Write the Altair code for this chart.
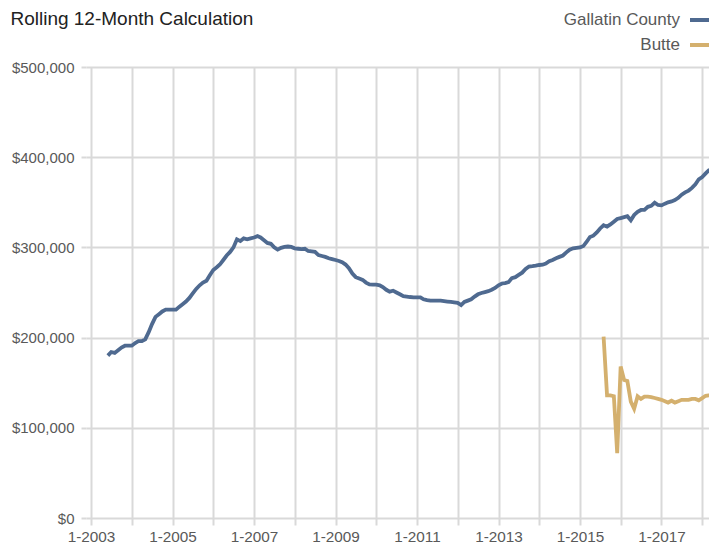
import altair as alt
import pandas as pd

# ---- data (values in thousands of dollars, monthly) ----
series_names = ["Gallatin County", "Butte"]

gallatin_start = "2003-06-01"
gallatin_k = [
    180, 184, 183, 186, 189, 191, 191,                                   # 2003 Jun-Dec
    191, 194, 196, 196, 198, 206, 215, 223, 226, 229, 231, 231,          # 2004
    231, 231, 234, 237, 240, 244, 249, 254, 258, 261, 263, 269,          # 2005
    275, 278, 281, 286, 291, 295, 300, 309, 307, 310, 309, 310,          # 2006
    311, 312.5, 311, 308, 305, 304, 300, 297.5, 299.5, 300.5, 301, 300.5,  # 2007
    299, 298.5, 298, 298.5, 296, 295.5, 295, 291.5, 290.5, 289.5, 288, 287,  # 2008
    286, 285, 283.5, 281, 277, 271, 267, 265.5, 264, 261, 259, 258.7,    # 2009
    258.7, 258, 256, 253, 251, 252, 250, 248, 246, 245.5, 245, 244.7,    # 2010
    244.7, 244.7, 242.5, 241.5, 241, 241, 241, 241, 240.5, 240, 239.5, 239,  # 2011
    238.5, 236, 239.5, 241, 242.5, 245.5, 248, 249.5, 250.5, 251.5, 253, 255,  # 2012
    258, 260, 260.5, 261.5, 266, 267, 269.5, 272, 276, 278.8, 279.2, 279.7,  # 2013
    280.5, 280.8, 282, 284.6, 286, 288, 289.5, 291, 294.5, 297.5, 299, 299.5,  # 2014
    300, 301.5, 306, 311.5, 313, 316.5, 321, 324.5, 323, 325.5, 328.5, 331.5,  # 2015
    332.5, 333.5, 334.5, 330, 336, 339.5, 341.5, 341.5, 345, 346, 349.5, 347,  # 2016
    346.6, 348.5, 350, 351, 352.5, 355, 358.5, 361, 363, 366, 370, 375.5,  # 2017
    378, 382, 385.5, 387, 391,                                           # 2018 Jan-May
]

butte_start = "2015-08-01"
butte_k = [
    201, 136, 136, 135, 72,                                              # 2015 Aug-Dec
    168, 153, 152, 129, 121, 135, 132, 134.5, 134.5, 134, 133, 132,      # 2016
    131, 129.5, 128, 130, 128, 129.5, 131, 131, 131, 132, 132, 130.5,    # 2017
    133, 135.5, 136, 136.5, 137,                                         # 2018 Jan-May
]

y_ticks = [0, 100000, 200000, 300000, 400000, 500000]
x_tick_years = list(range(2003, 2019))

# ---- table ----
def month_dates(start, n):
    return pd.date_range(start, periods=n, freq="MS").strftime("%Y-%m-%d").tolist()

frames = []
for name, start, vals in [
    (series_names[0], gallatin_start, gallatin_k),
    (series_names[1], butte_start, butte_k),
]:
    frames.append(pd.DataFrame({
        "date": month_dates(start, len(vals)),
        "value": [v * 1000 for v in vals],
        "series": name,
    }))
df = pd.concat(frames, ignore_index=True)

FONT = "Liberation Sans"
GRID = "#d9d9d9"
TEXT = "#595959"
BLUE = "#4f6a90"
TAN = "#d4b06e"

x = alt.X(
    "date:T",
    title=None,
    scale=alt.Scale(
        type="utc",
        domain=[alt.DateTime(year=2002, month=11, date=17, utc=True),
                alt.DateTime(year=2018, month=3, date=3, utc=True)],
        nice=False,
    ),
    axis=alt.Axis(
        values=[alt.DateTime(year=yr, month=1, date=1, utc=True) for yr in x_tick_years],
        labelExpr="utcyear(datum.value) % 2 == 1 ? '1-' + utcyear(datum.value) : ''",
        grid=True, gridColor=GRID, gridWidth=2,
        ticks=True, tickColor=GRID, tickWidth=2, tickSize=7,
        domain=False,
        labelFont=FONT, labelFontSize=15.3, labelColor=TEXT, labelPadding=4,
        labelFlush=False, labelOverlap=False,
    ),
)
y = alt.Y(
    "value:Q",
    title=None,
    scale=alt.Scale(domain=[0, 500000], nice=False),
    axis=alt.Axis(
        values=y_ticks, format="$,.0f",
        grid=True, gridColor=GRID, gridWidth=2,
        ticks=True, tickColor=GRID, tickWidth=2, tickSize=5,
        domain=False,
        labelFont=FONT, labelFontSize=15, labelColor=TEXT, labelPadding=7,
    ),
)
color = alt.Color(
    "series:N",
    scale=alt.Scale(domain=series_names, range=[BLUE, TAN]),
    legend=alt.Legend(
        title=None, orient="none", legendX=602, legendY=-64,
        labelAlign="right", labelOffset={"expr": "-42"},
        symbolType="stroke", symbolSize=900, symbolStrokeWidth=4,
        labelFont=FONT, labelFontSize=17, labelColor=TEXT,
        rowPadding={"expr": "-4.3"},
    ),
)

chart = alt.Chart(df).mark_line(strokeWidth=3.8, clip=True).encode(
    x=x, y=y, color=color, detail="series:N",
).properties(
    width=623, height=451,
    autosize=alt.AutoSizeParams(type="none"),
    padding={"left": 78, "top": 59, "right": 0, "bottom": 26},
    title=alt.TitleParams(
        "Rolling 12-Month Calculation", anchor="start", font=FONT, fontSize=19,
        fontWeight="normal", color="#222222", dx=-1, dy=26, offset=0,
    ),
).configure_view(stroke=None)

chart.save("out.html", embed_options={"renderer": "svg", "actions": False})
